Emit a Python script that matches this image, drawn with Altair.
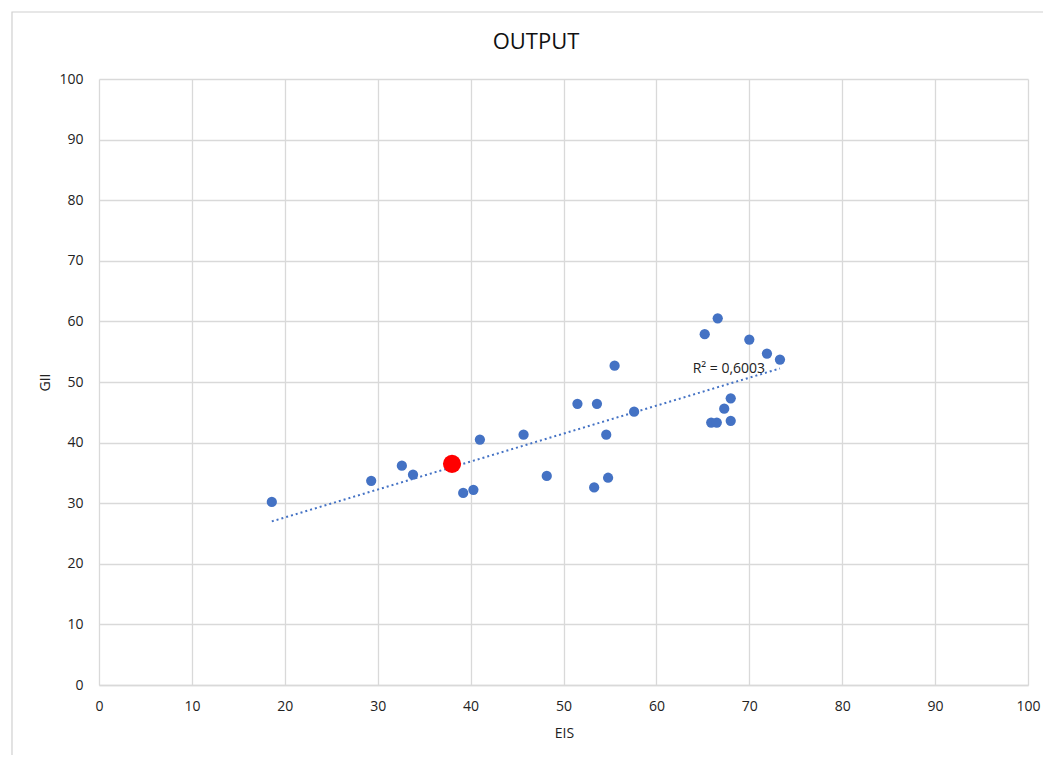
import altair as alt
import pandas as pd

eis = [18.6, 29.3, 32.6, 33.8, 39.2, 40.3, 41.0, 45.7, 48.2, 51.5, 53.6, 53.3, 54.8, 54.6,
       55.5, 57.6, 65.2, 66.6, 65.9, 66.5, 70.0, 67.3, 68.0, 68.0, 71.9, 73.3]
gii = [30.2, 33.7, 36.2, 34.7, 31.7, 32.2, 40.5, 41.3, 34.5, 46.4, 46.4, 32.6, 34.2, 41.3,
       52.7, 45.1, 57.9, 60.5, 43.3, 43.3, 57.0, 45.6, 47.3, 43.6, 54.7, 53.7]
highlight_eis = [38.0]
highlight_gii = [36.5]
r2_label = ["R² = 0,6003"]
r2_pos_x = [71.7]
r2_pos_y = [52.1]
chart_title = "OUTPUT"

df = pd.DataFrame({"EIS": eis, "GII": gii})
df_all = pd.DataFrame({"EIS": eis + highlight_eis, "GII": gii + highlight_gii})
dh = pd.DataFrame({"EIS": highlight_eis, "GII": highlight_gii})
dl = pd.DataFrame({"EIS": r2_pos_x, "GII": r2_pos_y, "label": r2_label})

FONT = "Open Sans"
W, H = 929, 606

xs = alt.Scale(domain=[0, 100], nice=False)
ys = alt.Scale(domain=[0, 100], nice=False)
xax = alt.Axis(values=list(range(0, 101, 10)), grid=True, ticks=False, domain=True,
               domainColor="#d9d9d9", gridColor="#d9d9d9", gridWidth=1.3, domainWidth=1.3,
               labelFont=FONT, labelFontSize=14, labelColor="#222", labelPadding=14,
               labelFlush=False,
               title="EIS", titleFont=FONT, titleFontSize=14, titleFontWeight="normal",
               titleColor="#222", titleX=465, titleY=48, titleBaseline="middle")
yax = alt.Axis(values=list(range(0, 101, 10)), grid=True, ticks=False, domain=False,
               gridColor="#d9d9d9", gridWidth=1.3,
               labelFont=FONT, labelFontSize=14, labelColor="#222", labelPadding=16,
               labelFlush=False,
               title="GII", titleFont=FONT, titleFontSize=14, titleFontWeight="normal",
               titleColor="#222", titleX=-54, titleY=303, titleBaseline="middle")

base = alt.Chart(df)

points = base.mark_circle(size=105, color="#4472C4", opacity=1).encode(
    x=alt.X("EIS:Q", scale=xs, axis=xax),
    y=alt.Y("GII:Q", scale=ys, axis=yax),
)

trend = alt.Chart(df_all).transform_regression("EIS", "GII").mark_line(
    color="#4472C4", strokeDash=[2, 3], strokeWidth=2
).encode(x=alt.X("EIS:Q", scale=xs), y=alt.Y("GII:Q", scale=ys))

red = alt.Chart(dh).mark_circle(size=330, color="#FF0000", opacity=1).encode(
    x=alt.X("EIS:Q", scale=xs), y=alt.Y("GII:Q", scale=ys))

label = alt.Chart(dl).mark_text(align="right", baseline="middle", font=FONT,
                                fontSize=14, color="#222").encode(
    x=alt.X("EIS:Q", scale=xs), y=alt.Y("GII:Q", scale=ys), text="label:N")

title = alt.Chart(pd.DataFrame({"t": [chart_title]})).mark_text(
    align="center", baseline="middle", font=FONT, fontSize=22, color="#111").encode(
    x=alt.value(437), y=alt.value(-37), text="t:N")

frame = alt.Chart(pd.DataFrame({"a": [0]})).mark_rect(
    fill=None, stroke="#d0d0d0", strokeWidth=1.2).encode(
    x=alt.value(-87), x2=alt.value(970), y=alt.value(-67), y2=alt.value(700))

chart = alt.layer(frame, points, trend, red, label, title).properties(
    width=W, height=H,
    autosize=alt.AutoSizeParams(type="none"),
    padding={"left": 91, "top": 71, "right": 15, "bottom": 70},
    background="white",
).configure_view(stroke=None)

chart.save("out.html", embed_options={"renderer": "svg", "actions": False})
